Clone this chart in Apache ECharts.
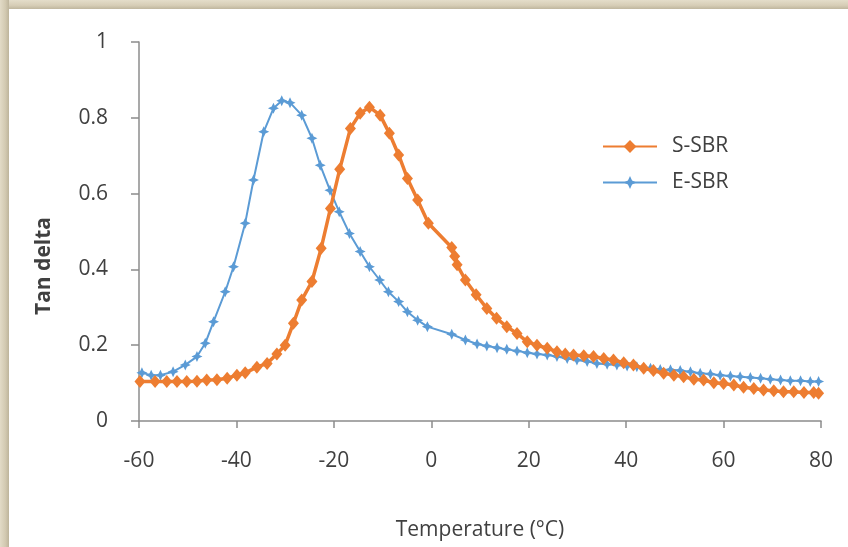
<!DOCTYPE html>
<html>
<head>
<meta charset="utf-8">
<script src="https://cdn.jsdelivr.net/npm/echarts@6/dist/echarts.min.js"></script>
<style>
html,body{margin:0;padding:0;background:#ffffff;}
#wrap{position:relative;width:848px;height:547px;overflow:hidden;background:#ffffff;}
#topband{position:absolute;left:0;top:0;width:848px;height:9px;background:linear-gradient(to bottom,#e4ddca 0%,#d6cdb6 60%,#bfb69e 100%);}
#leftband{position:absolute;left:0;top:0;width:9px;height:547px;background:linear-gradient(to right,#e2dbc7 0%,#d2c9b1 60%,#bdb49b 100%);}
#chart{position:absolute;left:0;top:0;width:848px;height:547px;}
</style>
</head>
<body>
<div id="wrap">
  <div id="topband"></div>
  <div id="leftband"></div>
  <div id="chart"></div>
</div>
<script>
// S-SBR (orange)
var sTemp = [-59.8,-56.7,-54.3,-52.2,-50.2,-48.1,-46.1,-44.0,-41.9,-39.9,-38.2,-35.8,-33.7,-31.7,-30.0,-28.3,-26.6,-24.5,-22.6,-20.7,-18.8,-16.6,-14.6,-12.7,-10.5,-8.6,-6.7,-4.9,-2.8,-0.6,4.2,4.8,5.3,7.0,9.2,11.4,13.4,15.5,17.6,19.7,21.7,23.8,25.8,27.5,29.2,31.3,33.3,35.4,37.4,39.5,41.5,43.6,45.6,47.7,49.8,51.8,53.9,55.9,58.0,60.0,62.1,64.1,66.2,68.2,70.3,72.3,74.4,76.5,78.5,79.5];
var sTan  = [0.104,0.104,0.104,0.104,0.104,0.105,0.108,0.109,0.113,0.121,0.127,0.142,0.152,0.177,0.200,0.258,0.319,0.368,0.456,0.561,0.664,0.772,0.812,0.828,0.807,0.759,0.702,0.640,0.583,0.522,0.458,0.435,0.412,0.372,0.333,0.297,0.271,0.249,0.231,0.209,0.200,0.192,0.183,0.177,0.174,0.172,0.170,0.165,0.161,0.154,0.148,0.139,0.133,0.126,0.121,0.117,0.110,0.108,0.101,0.099,0.095,0.089,0.086,0.082,0.080,0.077,0.077,0.075,0.075,0.073];
// E-SBR (blue)
var eTemp = [-59.4,-57.5,-55.6,-53.0,-50.5,-48.1,-46.4,-44.7,-42.3,-40.6,-38.2,-36.5,-34.4,-32.4,-30.7,-29.0,-26.6,-24.5,-22.8,-20.8,-18.9,-16.8,-14.6,-12.7,-10.6,-8.8,-6.7,-4.9,-2.8,-0.8,4.2,7.0,9.4,11.4,13.5,15.5,17.6,19.7,21.7,23.8,25.8,27.9,29.9,32.0,34.0,36.1,38.1,40.2,42.2,45.0,47.0,49.1,51.1,53.2,55.2,57.3,59.3,61.4,63.4,65.5,67.6,69.6,71.7,73.7,75.8,77.8,79.5];
var eTan  = [0.127,0.121,0.121,0.130,0.148,0.170,0.205,0.262,0.341,0.407,0.522,0.636,0.763,0.825,0.845,0.840,0.807,0.746,0.675,0.609,0.552,0.495,0.447,0.407,0.372,0.341,0.315,0.288,0.266,0.249,0.229,0.214,0.203,0.198,0.193,0.189,0.185,0.180,0.177,0.174,0.170,0.165,0.161,0.157,0.152,0.150,0.148,0.145,0.143,0.139,0.136,0.135,0.133,0.130,0.126,0.124,0.121,0.119,0.117,0.115,0.113,0.110,0.108,0.106,0.106,0.104,0.104];

var xTicks = [-60,-40,-20,0,20,40,60,80];
var yTicks = [0,0.2,0.4,0.6,0.8,1];

function pairs(xs, ys){ return xs.map(function(x,i){ return [x, ys[i]]; }); }

var FONT = '"Open Sans", "Noto Sans", sans-serif';
var TXT = '#404040';
var AX = '#8c8c8c';
var starPath = 'path://M0,-10 L3.2,-3.2 L10,0 L3.2,3.2 L0,10 L-3.2,3.2 L-10,0 L-3.2,-3.2 Z';

var chart = echarts.init(document.getElementById('chart'), null, {renderer:'canvas'});
chart.setOption({
  backgroundColor: 'transparent',
  animation: false,
  grid: {left:139, right:27, top:42, bottom:126, containLabel:false},
  xAxis: {
    type:'value', min:-60, max:80, interval:20,
    name:'Temperature (°C)', nameLocation:'middle', nameGap:99,
    nameTextStyle:{fontFamily:FONT, fontSize:21, color:TXT},
    axisLine:{show:true, onZero:false, lineStyle:{color:AX, width:1.5}},
    axisTick:{show:true, length:7, lineStyle:{color:AX, width:1.5}},
    axisLabel:{fontFamily:FONT, fontSize:21, color:TXT, margin:30,
      formatter:function(v){ return xTicks.indexOf(v)>=0 ? String(v) : ''; }},
    splitLine:{show:false}
  },
  yAxis: {
    type:'value', min:0, max:1, interval:0.2,
    axisLine:{show:true, onZero:false, lineStyle:{color:AX, width:1.5}},
    axisTick:{show:true, length:8, lineStyle:{color:AX, width:1.5}},
    axisLabel:{fontFamily:FONT, fontSize:21, color:TXT, margin:31,
      formatter:function(v){ var r=Math.round(v*10)/10; return yTicks.indexOf(r)>=0 ? String(r) : ''; }},
    splitLine:{show:false}
  },
  legend: {
    orient:'vertical', left:597, top:131, itemWidth:54, itemHeight:16, itemGap:15,
    textStyle:{fontFamily:FONT, fontSize:21, color:TXT, padding:[0,0,0,10]},
    data:['S-SBR','E-SBR']
  },
  graphic: [{
    type:'text', x:44, y:266, rotation:Math.PI/2,
    style:{text:'Tan delta', fontFamily:FONT, fontSize:21, fontWeight:'bold', fill:TXT, align:'center', verticalAlign:'middle'}
  }],
  series: [
    {
      name:'S-SBR', type:'line', data:pairs(sTemp,sTan),
      symbol:'diamond', symbolSize:[11,13],
      lineStyle:{color:'#ED7D31', width:3.5},
      itemStyle:{color:'#ED7D31'},
      z:3
    },
    {
      name:'E-SBR', type:'line', data:pairs(eTemp,eTan),
      symbol:starPath, symbolSize:11,
      lineStyle:{color:'#5B9BD5', width:2},
      itemStyle:{color:'#5B9BD5'},
      z:2
    }
  ]
});
</script>
</body>
</html>
